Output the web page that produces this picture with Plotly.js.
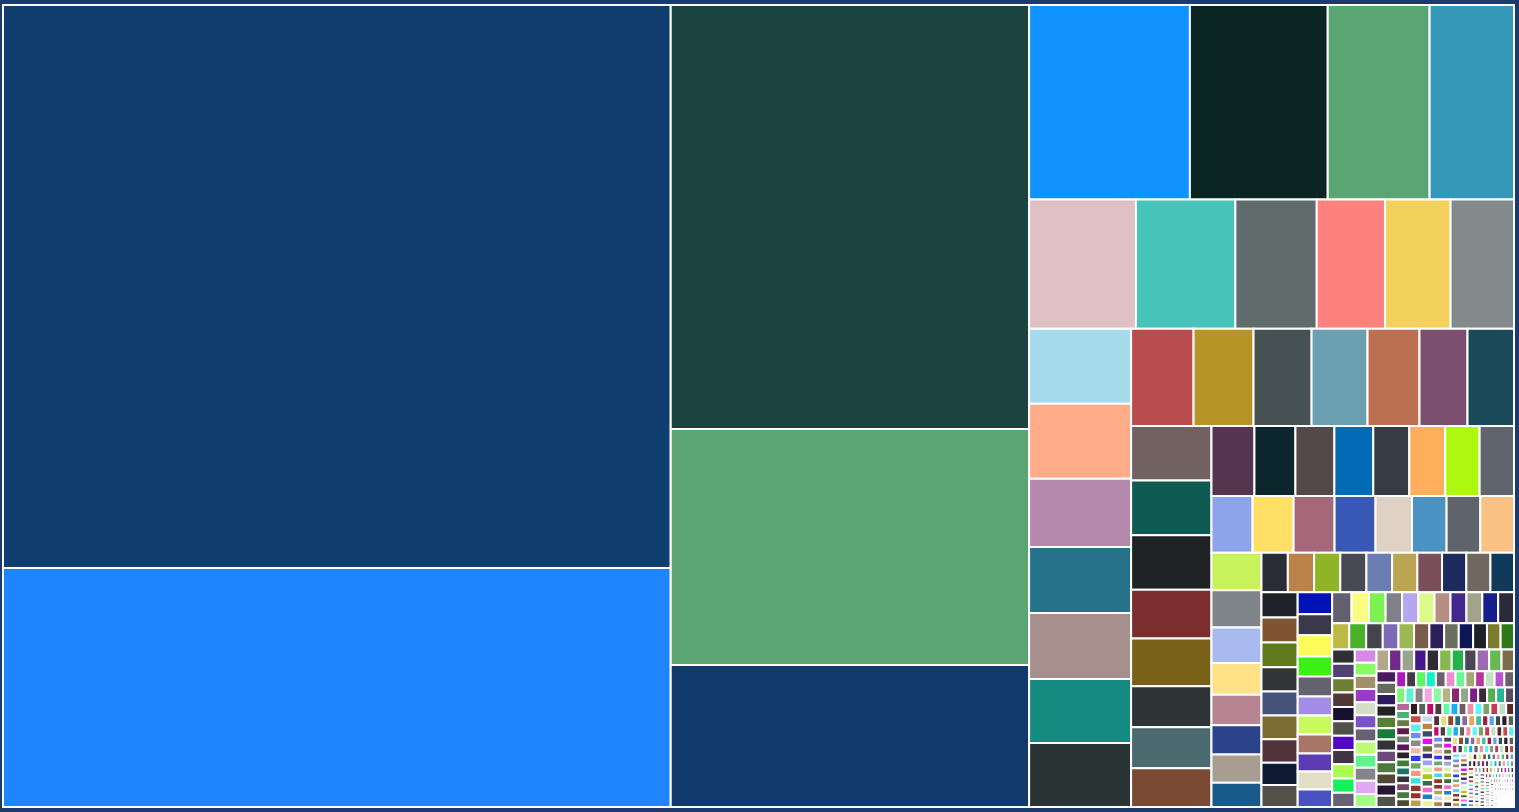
<!DOCTYPE html>
<html>
<head>
<meta charset="utf-8">
<script src="https://cdn.plot.ly/plotly-3.0.1.min.js"></script>
<style>
html,body{margin:0;padding:0;background:#1b3a6d;overflow:hidden;}
#chart{width:1519px;height:812px;}
</style>
</head>
<body>
<div id="chart"></div>
<script>
// ---- values (area units) ----
const majorValues = [375500, 159400, 151800, 84500, 50800];
const majorColors = ["#0f3d6e", "#1f84ff", "#1b4340", "#5ba573", "#113a6c"];

const row1Values = [31230, 26770, 19790, 16390];
const row1Colors = ["#1093ff", "#0b2522", "#5ba574", "#3498b9"];

const row2Values = [13800, 12840, 10510, 8840, 8450, 8190];
const row2Colors = ["#dfc0c4", "#47c4b9", "#606c6c", "#fe817e", "#f4d15a", "#838a8b"];

const col3Values = [7650, 7640, 6940, 6730, 6720, 6530, 6520];
const col3Colors = ["#a6dbeb", "#ffac88", "#b589ab", "#26728a", "#a68f8d", "#158a80", "#2a3434"];

const row4Values = [6060, 5820, 5630, 5430, 5040, 4660, 4510];
const row4Colors = ["#b94c4c", "#b69426", "#475153", "#6aa0b1", "#bb7052", "#7d4f6f", "#1b4b5a"];

const col5Values = [4390, 4385, 4370, 3920, 3840, 3285, 3280, 3120];
const col5Colors = ["#716160", "#0f5b54", "#1e2224", "#7b2e2e", "#7a611a", "#2e3335", "#4a6a70", "#7b4a35"];

const row6Values = [3010, 2870, 2730, 2725, 2520, 2516, 2412, 2407];
const row6Colors = ["#54344e", "#0c262d", "#54484a", "#036ab6", "#363c46", "#ffae5c", "#aef711", "#60646c"];

const row7Values = [2330, 2326, 2323, 2320, 2070, 1960, 1912, 1909];
const row7Colors = ["#8ea4ea", "#ffe066", "#a5677a", "#3758b5", "#dfd2c4", "#4a91c4", "#5f636b", "#fbc084"];

const col8Values = [1877, 1852, 1781, 1581, 1531, 1460, 1410, 1208];
const col8Colors = ["#c8f25a", "#808589", "#a7b9ed", "#ffe188", "#b78591", "#2a438b", "#a79d91", "#1a5a8a"];

const row9Values = [1040, 1036, 1034, 1030, 1014, 995, 975, 958, 950, 930];
const row9Colors = ["#2a2d35", "#bb8349", "#8fb526", "#474a55", "#6b7db2", "#bca550", "#7a4f5a", "#1b2b5e", "#706760", "#113a5a"];

const col10Values = [912, 905, 895, 880, 866, 860, 845, 810, 792];
const col10Colors = ["#1e2228", "#7e5530", "#5f7a1b", "#323438", "#45527a", "#7d6c34", "#53343c", "#111a33", "#54504a"];

const col11Values = [759, 726, 724, 690, 688, 658, 656, 654, 622, 615, 605];
const col11Colors = ["#0312b8", "#3a394a", "#fbfc58", "#3cf015", "#64626e", "#a48de9", "#c6fa5d", "#a87668", "#5c3bb3", "#e0dec4", "#4a52c3"];

const row12Values = [600, 540, 515, 510, 505, 500, 495, 493, 492, 491, 490];
const row12Colors = ["#62606e", "#fbfc82", "#7ef152", "#808088", "#b3a8ef", "#dcfa8a", "#b68e84", "#42288c", "#a3a38c", "#161f8c", "#2a2a38"];

const row13Values = [447, 442, 432, 412, 406, 401, 386, 381, 376, 361, 356, 350];
const row13Colors = ["#bdb945", "#49b12a", "#45444d", "#7c6bb4", "#9db853", "#7b5b4c", "#2c1f5e", "#6a6e5c", "#0e1658", "#1f1f28", "#7b7c2e", "#2e7a1a"];

const col14Values = [326, 325, 325, 324, 324, 324, 323, 323, 322, 322, 322];
const col14Colors = ["#2f3033", "#4e4274", "#6e8035", "#4f3835", "#15112f", "#4f5248", "#5308c1", "#3f3344", "#a9fb50", "#12f35a", "#676272"];

const col15Values = [287, 286, 286, 285, 285, 285, 285, 284, 284, 284, 284, 283];
const col15Colors = ["#d68ae8", "#88fd62", "#a48f68", "#9a3cc3", "#d3dec4", "#7b52c8", "#676172", "#bdfb77", "#5ef38c", "#848389", "#dfa8f0", "#a4fd86"];

const row16Values = [274, 273, 273, 272, 272, 272, 272, 271, 271, 271, 270];
const row16Colors = ["#b4a78a", "#712a89", "#9aa58e", "#47168a", "#302a36", "#85b84d", "#24b24f", "#4b4656", "#9e6bb2", "#67ba52", "#7b6d4b"];

const col17Values = [226, 225, 225, 224, 224, 223, 223, 222, 222, 221, 221, 220];
const col17Colors = ["#4a1a5e", "#656c5c", "#2e1a5e", "#232224", "#558034", "#1a7a39", "#353338", "#6a4a78", "#4d7a3a", "#504836", "#291634", "#4f5449"];

const row18Values = [162, 161, 161, 160, 160, 160, 159, 159, 158, 158, 158, 157];
const row18Colors = ["#b016c0", "#463846", "#5cf85c", "#12f1c6", "#6c606c", "#ef8cd3", "#68f895", "#a3a872", "#b43899", "#c6e0c5", "#bb54cc", "#6c5f6c"];

const row19Values = [142, 142, 141, 141, 141, 140, 140, 140, 139, 139, 139, 138, 138];
const row19Colors = ["#7ef377", "#5ef0d4", "#8b8088", "#f2a9df", "#8ff8a7", "#b3b586", "#8a2773", "#93a88b", "#7e1c8c", "#3b2b3a", "#52b34c", "#26b896", "#5a4a5a"];

const col20Values = [112, 112, 111, 111, 111, 110, 110, 110, 109, 109, 109, 108, 108];
const col20Colors = ["#b3679c", "#4ab374", "#6a7947", "#611c4c", "#6c7968", "#531858", "#2a2228", "#3f7e32", "#1a7468", "#333038", "#734a6c", "#457a40", "#4b4a30"];

// smallest tiles in the lower-right corner
const tail1 = [102,101,101,100,100,100,99,99,99,98,98,98,97,97,97];
const tail2 = [90,89,89,89,88,88,88,87,87,87,86,86,86,85,85];
const tail3 = [79,79,78,78,78,77,77,77,76,76,76,75,75,75,74];
const tail4 = [70,69,69,69,68,68,68,67,67,67,66,66,66,65,65];
const tail5 = [61,61,61,60,60,60,59,59,59,58,58,58,57,57,57];
const tail6 = [54,54,53,53,53,52,52,52,51,51,51,50,50,50,49];
const tail7 = [48,47,47,47,46,46,46,45,45,45,44,44,44,43,43];
const tail8 = [42,42,41,41,41,40,40,40,39,39,39,38,38,38,37];
const tail9 = [37,37,36,36,36,35,35,35,34,34,34,33,33,33,32];
const tail10 = [32,32,31,31,31,30,30,30,29,29,29,28,28,28,28];
const tail11 = [28,27,27,27,26,26,26,26,25,25,25,25,24,24,24];
const tail12 = [24,24,23,23,23,23,22,22,22,22,21,21,21,21,20];
const tail13 = [20,20,20,20,19,19,19,19,18,18,18,18,18,17,17];
const tail14 = [17,17,17,16,16,16,16,16,15,15,15,15,15,14,14];
const tail15 = [14,14,14,14,13,13,13,13,13,12,12,12,12,12,12];
const tail16 = [12,11,11,11,11,11,11,10,10,10,10,10,10,10,9];
const tail17 = [9,9,9,9,9,9,9,8,8,8,8,8,8,8,8];
const tail18 = [8,8,7,7,7,7,7,7,7,7,7,6,6,6,6];
const tail19 = [6,6,6,6,6,6,6,5,5,5,5,5,5,5,5];
const tail20 = [5,5,5,5,4,4,4,4,4,4,4,4,4,4,4];

const tailPalette = ["#2f1a20","#5c6258","#c30a6b","#4a3a40","#5efca8","#13b0ef","#6a5c6a","#ef92a6",
  "#5cf5f5","#7aa462","#c33a58","#c3dcc8","#5c2820","#c34848","#5af0f0","#6f8cf5","#8a8a8a","#f0b8a8",
  "#2c3cf0","#68a868","#f09a80","#38e0e0","#8c3a28","#963028","#b8a048","#c8d8f0","#c08040","#3a4a6a",
  "#e80af0","#6a7040","#3a2870","#a0a0f0","#d8f0a8","#a8c820","#3a6a3a","#f06ad0","#2080c0","#f0f0a0",
  "#503040","#e0e080","#8a4a2a","#206a8a","#8a6aa0","#f0a060","#40c0a0","#a02040","#60a0f0","#404848"];

const groups = [
  [majorValues, majorColors], [row1Values, row1Colors], [row2Values, row2Colors],
  [col3Values, col3Colors], [row4Values, row4Colors], [col5Values, col5Colors],
  [row6Values, row6Colors], [row7Values, row7Colors], [col8Values, col8Colors],
  [row9Values, row9Colors], [col10Values, col10Colors], [col11Values, col11Colors],
  [row12Values, row12Colors], [row13Values, row13Colors], [col14Values, col14Colors],
  [col15Values, col15Colors], [row16Values, row16Colors], [col17Values, col17Colors],
  [row18Values, row18Colors], [row19Values, row19Colors], [col20Values, col20Colors]
];
const tails = [tail1,tail2,tail3,tail4,tail5,tail6,tail7,tail8,tail9,tail10,
               tail11,tail12,tail13,tail14,tail15,tail16,tail17,tail18,tail19,tail20];

const values = [], colors = [];
groups.forEach(([v, c]) => { v.forEach((x, i) => { values.push(x); colors.push(c[i]); }); });
let k = 0;
tails.forEach(t => t.forEach(x => { values.push(x); colors.push(tailPalette[k % tailPalette.length]); k++; }));

const labels = values.map((_, i) => "Item " + (i + 1));
const parents = values.map(() => "");

Plotly.newPlot("chart", [{
  type: "treemap",
  labels: labels,
  parents: parents,
  values: values,
  sort: true,
  textinfo: "none",
  hoverinfo: "label+value",
  marker: {
    colors: colors,
    line: {color: "#ffffff", width: 2},
    pad: {t: 0, l: 0, r: 0, b: 0}
  },
  tiling: {packing: "squarify", squarifyratio: 1.618034, pad: 0},
  pathbar: {visible: false}
}], {
  width: 1519,
  height: 812,
  margin: {l: 3, r: 5, t: 5, b: 5},
  paper_bgcolor: "#1b3a6d",
  plot_bgcolor: "#1b3a6d",
  showlegend: false
}, {displayModeBar: false, staticPlot: true});
</script>
</body>
</html>
